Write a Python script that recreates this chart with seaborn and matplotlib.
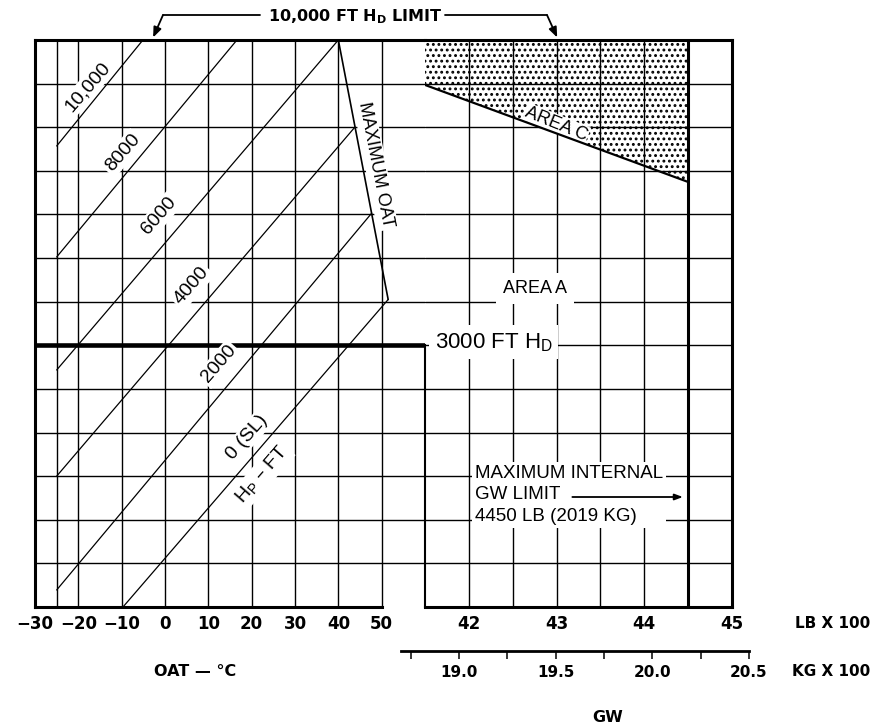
import pandas as pd
import seaborn as sns
import matplotlib.pyplot as plt
from matplotlib.lines import Line2D
from matplotlib.ticker import FormatStrFormatter

# ---- OAT panel ----
oat_ticks = [-30, -20, -10, 0, 10, 20, 30, 40, 50]
oat_labels = ["−30", "−20", "−10", "0", "10", "20", "30", "40", "50"]
hd_grid = list(range(-2000, 10000, 1000))

# pressure altitude lines, start/end points (OAT degC, HD ft)
hp_names = ["10,000", "8000", "6000", "4000", "2000", "0 (SL)"]
hp_oat0 = [-25, -25, -25, -25, -25, -9.7]
hp_hd0 = [7570, 5025, 2434, 0, -2610, -3000]
hp_oat1 = [-5.1, 16.6, 40, 43.8, 47.7, 51.5]
hp_hd1 = [10000, 10000, 10000, 8000, 6030, 4050]
hp_lab_oat = [-17.8, -9.8, -1.4, 6.2, 12.4, 18.9]
hp_lab_hd = [8922, 7408, 5965, 4360, 2571, 898]

max_oat_x = [40, 51.5]
max_oat_y = [10000, 4050]
hd_3000 = 3000

# ---- GW panel ----
lb_ticks = [42, 43, 44, 45]
lb_half = [42.5, 43.5]
gw_limit = 44.5
kg_ticks = [19.0, 19.5, 20.0, 20.5]
kg_minor = [18.75, 19.25, 19.75, 20.25]
area_c_gw = [41.5, 44.5]
area_c_hd = [8970, 6745]

sns.set_theme(style="white", rc={"axes.edgecolor": "black", "grid.color": "black",
                                 "xtick.color": "black", "text.color": "black"})
plt.rcParams['font.family'] = ['DejaVu Sans']
plt.rcParams['hatch.linewidth'] = 1.3

W, H = 878, 725
fig = plt.figure(figsize=(W / 100, H / 100), dpi=100)


def px(x0, x1, y_top, y_bot):
    return [x0 / W, 1 - y_bot / H, (x1 - x0) / W, (y_bot - y_top) / H]


ax_l = fig.add_axes(px(35, 425, 40, 607))
ax_r = fig.add_axes(px(425, 732, 40, 607))
ax_kg = fig.add_axes(px(401, 749, 650, 651))

lab_font = dict(family="Liberation Sans")
white = dict(facecolor="white", edgecolor="none", pad=1.5)

for ax in (ax_l, ax_r):
    ax.set_ylim(-3000, 10000)
    ax.set_yticks(hd_grid)
    ax.set_yticklabels([])
    ax.tick_params(axis="both", length=0)
    ax.tick_params(axis="x", pad=6)
    ax.grid(True, which="both", lw=1.0, color="black", zorder=0)
    ax.set_axisbelow(True)
    for s in ax.spines.values():
        s.set_linewidth(2.2)

# left panel
ax_l.set_xlim(-30, 60)
ax_l.set_xticks(oat_ticks)
ax_l.set_xticks([-25], minor=True)
ax_l.set_xticklabels(oat_labels, fontsize=12, fontweight="bold")
ax_l.spines["right"].set_visible(False)
ax_l.spines["bottom"].set_bounds(-30, 50)
ax_l.axhline(hd_3000, color="black", lw=3.3, zorder=2)

hp_df = pd.DataFrame({
    "oat": hp_oat0 + hp_oat1,
    "hd": hp_hd0 + hp_hd1,
    "hp": hp_names + hp_names,
})
sns.lineplot(data=hp_df, x="oat", y="hd", units="hp", estimator=None, sort=False,
             color="black", lw=0.9, ax=ax_l, zorder=4)
sns.lineplot(x=max_oat_x, y=max_oat_y, color="black", lw=1.2, ax=ax_l, zorder=4)

for name, xo, yo in zip(hp_names, hp_lab_oat, hp_lab_hd):
    ax_l.text(xo, yo, name, rotation=49, ha="center", va="center", rotation_mode="anchor",
              fontsize=14, bbox=white, zorder=3, **lab_font)
ax_l.text(22.4, 27, "H$_\\mathregular{P}$ – FT", rotation=49, ha="center", va="center",
          rotation_mode="anchor", fontsize=14, bbox=white, zorder=3, **lab_font)
ax_l.text(48.6, 7134, "MAXIMUM OAT", rotation=-79, ha="center", va="center",
          rotation_mode="anchor", fontsize=13, bbox=white, zorder=3, **lab_font)
ax_l.set_xlabel("")
ax_l.set_ylabel("")

# right panel
ax_r.set_xlim(41.5, 45)
ax_r.set_xticks(lb_ticks)
ax_r.set_xticks(lb_half, minor=True)
ax_r.set_xticklabels([str(v) for v in lb_ticks], fontsize=12, fontweight="bold")
ax_r.spines["left"].set_bounds(-3000, hd_3000)
ax_r.spines["left"].set_linewidth(1.5)
ax_r.axvline(gw_limit, color="black", lw=2.2, zorder=2)

ax_r.fill_between(area_c_gw, area_c_hd, [10000, 10000], facecolor="none",
                  edgecolor="black", hatch="...", linewidth=0, zorder=1)
sns.lineplot(x=area_c_gw, y=area_c_hd, color="black", lw=1.6, ax=ax_r, zorder=4)
ax_r.text(43.0, 8080, "AREA C", rotation=-22, ha="center", va="center",
          rotation_mode="anchor", fontsize=13, bbox=dict(facecolor="white", edgecolor="none", pad=0.5),
          zorder=3, **lab_font)
ax_r.text(42.754, 4303, "AREA A", ha="center", va="center", fontsize=13,
          bbox=dict(facecolor="white", edgecolor="none", pad=5), zorder=3, **lab_font)
ax_r.text(41.61, 2940, "3000 FT H$_\\mathregular{D}$", ha="left", va="baseline", fontsize=16,
          bbox=dict(facecolor="white", edgecolor="none", pad=4), zorder=3, **lab_font)
ax_r.text(42.07, -432, "MAXIMUM INTERNAL\nGW LIMIT\n4450 LB (2019 KG)", ha="left",
          va="center", linespacing=1.38, fontsize=13.5, zorder=3,
          bbox=dict(facecolor="white", edgecolor="none", pad=2), **lab_font)
ax_r.annotate("", xy=(44.44, -478), xytext=(43.18, -478),
              arrowprops=dict(arrowstyle="-|>,head_length=0.4,head_width=0.15",
                              color="black", lw=1.3, shrinkA=0, shrinkB=0), zorder=4)
ax_r.set_xlabel("")
ax_r.set_ylabel("")

# kg scale
ax_kg.set_xlim(18.7, 20.5)
ax_kg.set_xticks(kg_ticks)
ax_kg.set_xticks(kg_minor, minor=True)
ax_kg.xaxis.set_major_formatter(FormatStrFormatter("%.1f"))
ax_kg.set_yticks([])
for side in ("top", "left", "right"):
    ax_kg.spines[side].set_visible(False)
ax_kg.spines["bottom"].set_linewidth(2.0)
ax_kg.tick_params(axis="x", which="both", direction="out", length=6, width=1.1,
                  bottom=True, pad=4, labelsize=11)
for t in ax_kg.get_xticklabels():
    t.set_fontweight("bold")
ax_kg.patch.set_visible(False)

# top annotation
y_top = 1 - 15 / H
fig.text(355 / W, 1 - 21.5 / H, "10,000 FT H$_\\mathregular{D}$ LIMIT", ha="center",
         va="baseline", fontsize=11.5, fontweight="bold")
fig.add_artist(Line2D([260 / W, 163 / W], [y_top, y_top], color="black", lw=1.3))
fig.add_artist(Line2D([445 / W, 547 / W], [y_top, y_top], color="black", lw=1.3))
arrow = dict(arrowstyle="-|>,head_length=0.5,head_width=0.2", color="black", lw=1.3,
             shrinkA=0, shrinkB=2)
ax_l.annotate("", xy=(-3, 10000), xytext=(163 / W, y_top), textcoords="figure fraction",
              arrowprops=arrow, annotation_clip=False)
ax_r.annotate("", xy=(43.02, 10000), xytext=(547 / W, y_top), textcoords="figure fraction",
              arrowprops=arrow, annotation_clip=False)

# axis captions
fig.text(195 / W, 1 - 672 / H, "OAT — °C", ha="center", va="center", fontsize=11.5,
         fontweight="bold")
fig.text(870 / W, 1 - 623 / H, "LB X 100", ha="right", va="center", fontsize=11,
         fontweight="bold")
fig.text(870 / W, 1 - 672 / H, "KG X 100", ha="right", va="center", fontsize=11,
         fontweight="bold")
fig.text(608 / W, 1 - 717 / H, "GW", ha="center", va="center", fontsize=11.5,
         fontweight="bold")

fig.savefig("out.png", dpi=100, facecolor="white")
